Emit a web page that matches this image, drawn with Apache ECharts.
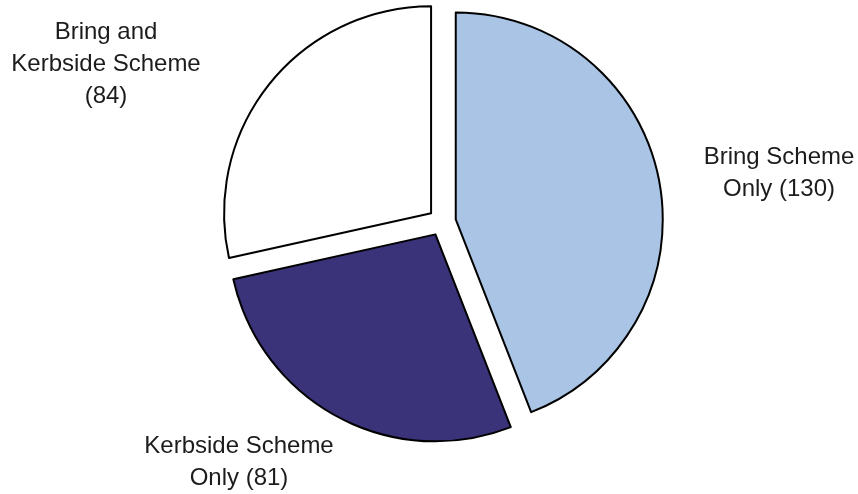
<!DOCTYPE html>
<html>
<head>
<meta charset="utf-8">
<script src="https://cdn.jsdelivr.net/npm/echarts@6/dist/echarts.min.js"></script>
<style>
  html, body { margin: 0; padding: 0; background: #ffffff; }
  #chart { width: 858px; height: 494px; }
</style>
</head>
<body>
<div id="chart"></div>
<script>
// Recycling scheme participation, clockwise from 12 o'clock
const categories = ['Bring Scheme Only', 'Kerbside Scheme Only', 'Bring and Kerbside Scheme'];
const counts = [130, 81, 84];
const sliceColors = ['#a9c4e4', '#3a3379', '#ffffff'];
// Label text per slice; {c} is replaced by the slice value
const labelTemplates = [
  'Bring Scheme\nOnly ({c})',
  'Kerbside Scheme\nOnly ({c})',
  'Bring and\nKerbside Scheme\n({c})'
];
// Centre of each label block
const labelSpots = [[779, 173], [239, 462], [106, 64]];

const chart = echarts.init(document.getElementById('chart'), null, { renderer: 'canvas' });

const data = categories.map((name, i) => ({
  name: name,
  value: counts[i],
  selected: true,
  itemStyle: { color: sliceColors[i], borderColor: '#000000', borderWidth: 2 },
  select: { itemStyle: { color: sliceColors[i], borderColor: '#000000', borderWidth: 2 } }
}));

const labels = categories.map((name, i) => ({
  type: 'text',
  x: labelSpots[i][0],
  y: labelSpots[i][1],
  silent: true,
  style: {
    text: labelTemplates[i].replace('{c}', counts[i]),
    fill: '#1c1c1c',
    font: '24px "Liberation Sans", Arial, sans-serif',
    lineHeight: 32,
    align: 'center',
    verticalAlign: 'middle'
  }
}));

chart.setOption({
  animation: false,
  backgroundColor: '#ffffff',
  graphic: labels,
  series: [{
    type: 'pie',
    center: [442, 222],
    radius: [0, 207],
    startAngle: 90,
    clockwise: true,
    selectedMode: 'multiple',
    selectedOffset: 14,
    emphasis: { disabled: true },
    data: data,
    label: { show: false },
    labelLine: { show: false }
  }]
});
</script>
</body>
</html>
